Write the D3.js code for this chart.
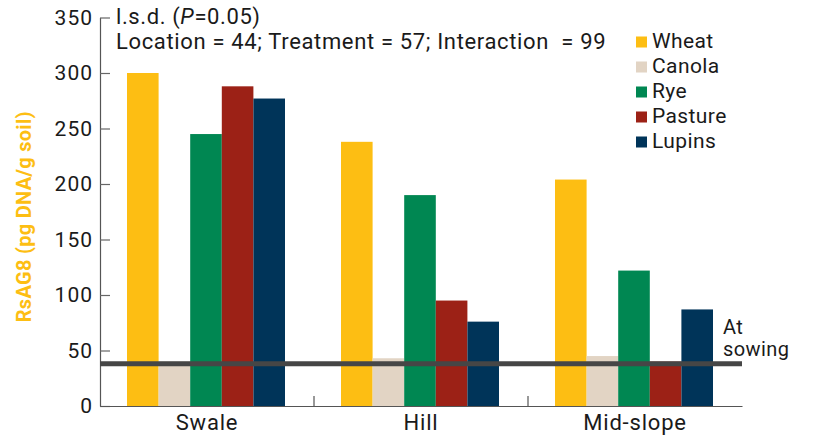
<!DOCTYPE html>
<html>
<head>
<meta charset="utf-8">
<script src="https://cdn.jsdelivr.net/npm/d3@7"></script>
<style>
  html, body { margin: 0; padding: 0; background: #fff; }
  svg { display: block; }
  text { font-family: Roboto, "Open Sans", sans-serif; fill: #1a1a1a; }
</style>
</head>
<body>
<svg id="chart" width="813" height="441"></svg>
<script>
// RsAG8 DNA in soil by landscape location and previous crop
const locations = ["Swale", "Hill", "Mid-slope"];
const crops = ["Wheat", "Canola", "Rye", "Pasture", "Lupins"];
const wheat   = [300, 238, 204];
const canola  = [40, 43, 45];
const rye     = [245, 190, 122];
const pasture = [288, 95, 40];
const lupins  = [277, 76, 87];
const atSowing = 38;
const yTicks = [0, 50, 100, 150, 200, 250, 300, 350];
const cropColors = ["#FDBE13", "#E2D4C4", "#008752", "#9C2116", "#003459"];

const series = [wheat, canola, rye, pasture, lupins];
const rows = locations.map((loc, i) => ({
  loc, values: crops.map((c, j) => ({ crop: c, value: series[j][i] }))
}));

const FONT = "Roboto, 'Open Sans', sans-serif";
const svg = d3.select("#chart");
const plotLeft = 100, plotRight = 742, plotTop = 17.5, plotBottom = 406;

const x0 = d3.scaleBand().domain(locations).range([plotLeft, plotRight]);
const x1 = d3.scaleBand().domain(crops).range([27, 185]);
const y = d3.scaleLinear().domain([0, 350]).range([plotBottom, plotTop]);
const color = d3.scaleOrdinal().domain(crops).range(cropColors);

// bars
svg.append("g").selectAll("g").data(rows).join("g")
  .attr("transform", d => `translate(${x0(d.loc)},0)`)
  .selectAll("rect").data(d => d.values).join("rect")
  .attr("x", d => x1(d.crop))
  .attr("width", x1.bandwidth())
  .attr("y", d => y(d.value))
  .attr("height", d => y(0) - y(d.value))
  .attr("fill", d => color(d.crop));

// y axis
const yAxis = svg.append("g").attr("transform", `translate(${plotLeft},0)`)
  .call(d3.axisLeft(y).tickValues(yTicks).tickSizeInner(-10).tickSizeOuter(0).tickPadding(7));
yAxis.select(".domain").attr("stroke", "#555").attr("stroke-width", 1.2);
yAxis.selectAll(".tick line").attr("stroke", "#666").attr("stroke-width", 1.2);
yAxis.selectAll(".tick text").attr("font-size", 21).attr("fill", "#1a1a1a")
  .style("font-family", FONT).style("letter-spacing", "1px");

// x axis
const xAxis = svg.append("g").attr("transform", `translate(0,${plotBottom})`)
  .call(d3.axisBottom(x0).tickSize(0).tickPadding(8));
xAxis.select(".domain").attr("stroke", "#555").attr("stroke-width", 1.2);
xAxis.selectAll(".tick text").attr("font-size", 22).attr("fill", "#1a1a1a")
  .style("font-family", FONT).style("letter-spacing", "0.8px");
svg.append("g").selectAll("line").data(locations.slice(1)).join("line")
  .attr("x1", d => x0(d)).attr("x2", d => x0(d))
  .attr("y1", plotBottom).attr("y2", plotBottom - 10)
  .attr("stroke", "#555").attr("stroke-width", 1.2);

// at-sowing reference line
svg.append("line")
  .attr("x1", plotLeft).attr("x2", plotRight)
  .attr("y1", y(atSowing)).attr("y2", y(atSowing))
  .attr("stroke", "#464646").attr("stroke-width", 5);
const sow = svg.append("text").attr("x", 723).attr("y", 334).attr("font-size", 20)
  .style("letter-spacing", "0.4px");
sow.append("tspan").attr("x", 723).text("At");
sow.append("tspan").attr("x", 723).attr("dy", 22).text("sowing");

// y axis title
svg.append("text")
  .attr("transform", `translate(31,${(plotBottom + plotTop) / 2 + 5}) rotate(-90)`)
  .attr("text-anchor", "middle")
  .attr("font-size", 20).attr("font-weight", "bold")
  .style("fill", "#FDBE13").style("letter-spacing", "0.3px")
  .text("RsAG8 (pg DNA/g soil)");

// l.s.d. note
const note = svg.append("text").attr("x", 116).attr("y", 23.5).attr("font-size", 22)
  .style("letter-spacing", "0.6px");
note.append("tspan").text("l.s.d. (");
note.append("tspan").attr("font-style", "italic").text("P");
note.append("tspan").text("=0.05)");
svg.append("text").attr("x", 116).attr("y", 48.5).attr("font-size", 22)
  .style("white-space", "pre").style("letter-spacing", "0.65px")
  .text("Location = 44; Treatment = 57; Interaction  = 99");

// legend
const legend = svg.append("g").selectAll("g").data(crops).join("g")
  .attr("transform", (d, i) => `translate(636,${48 + i * 25})`);
legend.append("rect").attr("x", 0).attr("y", -11.5).attr("width", 11).attr("height", 11)
  .attr("fill", d => color(d));
legend.append("text").attr("x", 16).attr("y", 0).attr("font-size", 21)
  .style("letter-spacing", "0.4px").text(d => d);
</script>
</body>
</html>
